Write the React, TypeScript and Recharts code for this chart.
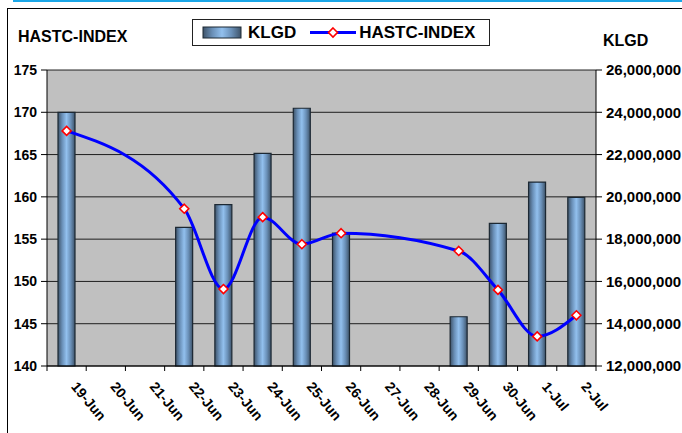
import React from 'react';
import {
  ComposedChart,
  Bar,
  Line,
  XAxis,
  YAxis,
  CartesianGrid,
  Legend,
} from 'recharts';

const dates = [
  '19-Jun', '20-Jun', '21-Jun', '22-Jun', '23-Jun', '24-Jun', '25-Jun',
  '26-Jun', '27-Jun', '28-Jun', '29-Jun', '30-Jun', '1-Jul', '2-Jul',
];
// KLGD (trading volume), empty on non-trading days
const klgd = [
  24000000, null, null, 18560000, 19630000, 22060000, 24190000,
  18280000, null, null, 14330000, 18750000, 20700000, 19980000,
];
// HASTC-INDEX
const hastc = [
  167.8, null, null, 158.6, 149.1, 157.6, 154.4,
  155.7, null, null, 153.6, 149.0, 143.5, 146.0,
];
const indexTicks = [140, 145, 150, 155, 160, 165, 170, 175];
const volumeTicks = [12000000, 14000000, 16000000, 18000000, 20000000, 22000000, 24000000, 26000000];

const data = dates.map((date, i) => ({ date, klgd: klgd[i], hastc: hastc[i] }));

const FONT = '"Liberation Sans", Arial, sans-serif';
const W = 682;
const H = 433;
const LEFT_W = 47;
const RIGHT_W = 86;
const TOP = 70;
const BOTTOM = 67;
const BAND = (W - LEFT_W - RIGHT_W) / dates.length;

function DateTick(props: any) {
  const { x, y, payload, index } = props;
  const last = index === dates.length - 1;
  return (
    <g>
      <line x1={x - BAND / 2} x2={x - BAND / 2} y1={y} y2={y + 5} stroke="#000" />
      {last && <line x1={x + BAND / 2} x2={x + BAND / 2} y1={y} y2={y + 5} stroke="#000" />}
      <text
        x={0}
        y={0}
        transform={`translate(${x + 4},${y + 21}) rotate(50)`}
        textAnchor="start"
        fontFamily={FONT}
        fontWeight="bold"
        fontSize={14}
        fill="#000"
      >
        {payload.value}
      </text>
    </g>
  );
}

function Diamond(props: any) {
  const { cx, cy, value } = props;
  if (value == null || cx == null || cy == null) return <g key={props.index} />;
  const r = 4.5;
  return (
    <polygon
      key={props.index}
      points={`${cx},${cy - r} ${cx + r},${cy} ${cx},${cy + r} ${cx - r},${cy}`}
      fill="#fff"
      stroke="#ff0000"
      strokeWidth={1.6}
    />
  );
}

function LegendBox() {
  return (
    <div
      style={{
        width: 296,
        height: 25,
        border: '1px solid #222',
        background: '#fff',
        display: 'flex',
        alignItems: 'center',
        fontFamily: FONT,
        fontWeight: 'bold',
        fontSize: 17,
        color: '#000',
      }}
    >
      <svg width={50} height={25} style={{ marginLeft: 8 }}>
        <rect x={2} y={7} width={38} height={11} fill="url(#barGrad)" stroke="#1c2833" />
      </svg>
      <span style={{ marginLeft: -3 }}>KLGD</span>
      <svg width={48} height={25} style={{ marginLeft: 14 }}>
        <line x1={0} x2={46} y1={12.5} y2={12.5} stroke="#0000ff" strokeWidth={3} />
        <polygon points="23,8 27.5,12.5 23,17 18.5,12.5" fill="#fff" stroke="#ff0000" strokeWidth={1.6} />
      </svg>
      <span style={{ marginLeft: 1 }}>HASTC-INDEX</span>
    </div>
  );
}

export default function App() {
  const tickStyle = { fontSize: 14, fontWeight: 'bold', fill: '#000', fontFamily: FONT };
  return (
    <div style={{ position: 'absolute', left: 0, top: 0, width: W, height: H, overflow: 'hidden', background: '#fff' }}>
      <div style={{ position: 'absolute', left: 13, top: 0, width: W, height: 2, background: '#1aa7e8' }} />
      <div style={{ position: 'absolute', left: 7, top: 8, width: W, height: H, border: '1px solid #000' }} />
      <div style={{ position: 'absolute', left: 18, top: 28, fontFamily: FONT, fontWeight: 'bold', fontSize: 16, whiteSpace: 'nowrap' }}>
        HASTC-INDEX
      </div>
      <div style={{ position: 'absolute', left: 603, top: 32, fontFamily: FONT, fontWeight: 'bold', fontSize: 16 }}>
        KLGD
      </div>
      <div style={{ position: 'absolute', left: 0, top: 0 }}>
        <ComposedChart
          width={W}
          height={H}
          data={data}
          margin={{ top: TOP, right: 0, bottom: 0, left: 0 }}
          barSize={17}
        >
          <defs>
            <linearGradient id="barGrad" x1="0" y1="0" x2="1" y2="0">
              <stop offset="0%" stopColor="#3e5369" />
              <stop offset="25%" stopColor="#6a90b8" />
              <stop offset="50%" stopColor="#92c0ee" />
              <stop offset="75%" stopColor="#6a90b8" />
              <stop offset="100%" stopColor="#3e5369" />
            </linearGradient>
          </defs>
          <CartesianGrid
            yAxisId="left"
            vertical={false}
            stroke="#000"
            strokeOpacity={0.85}
            fill="#c0c0c0"
            fillOpacity={1}
          />
          <XAxis
            dataKey="date"
            height={BOTTOM}
            interval={0}
            tickLine={false}
            tickSize={0}
            tickMargin={0}
            axisLine={{ stroke: '#000' }}
            tick={<DateTick />}
          />
          <YAxis
            yAxisId="left"
            orientation="left"
            width={LEFT_W}
            domain={[140, 175]}
            ticks={indexTicks}
            interval={0}
            tickSize={6}
            tickMargin={4}
            tickLine={{ stroke: '#000' }}
            axisLine={{ stroke: '#000' }}
            tick={tickStyle}
          />
          <YAxis
            yAxisId="right"
            orientation="right"
            width={RIGHT_W}
            domain={[12000000, 26000000]}
            ticks={volumeTicks}
            interval={0}
            tickSize={6}
            tickMargin={4}
            tickLine={{ stroke: '#000' }}
            axisLine={{ stroke: '#000' }}
            tick={{ ...tickStyle, fontSize: 15, textAnchor: 'start' }}
            tickFormatter={(v: number) => v.toLocaleString('en-US')}
          />
          <Legend
            layout="horizontal"
            verticalAlign="middle"
            align="center"
            wrapperStyle={{ position: 'absolute', left: 192, top: 19, width: 298, height: 27 }}
            content={() => <LegendBox />}
          />
          <Bar
            yAxisId="right"
            dataKey="klgd"
            name="KLGD"
            fill="url(#barGrad)"
            stroke="#1c2833"
            strokeWidth={1.2}
            isAnimationActive={false}
          />
          <Line
            yAxisId="left"
            dataKey="hastc"
            name="HASTC-INDEX"
            type="monotone"
            connectNulls
            stroke="#0000ff"
            strokeWidth={3}
            dot={<Diamond />}
            activeDot={false}
            isAnimationActive={false}
          />
        </ComposedChart>
      </div>
    </div>
  );
}
